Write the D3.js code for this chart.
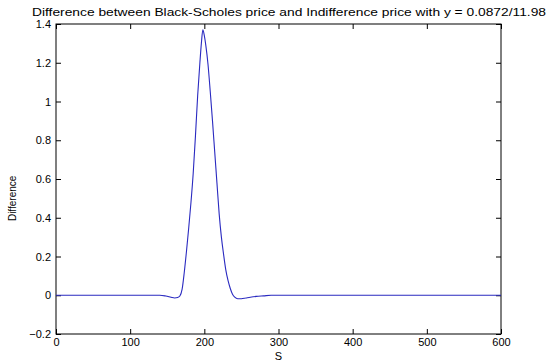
<!DOCTYPE html>
<html>
<head>
<meta charset="utf-8">
<script src="https://cdn.jsdelivr.net/npm/d3@7"></script>
<style>
  body { margin: 0; background: #fff; }
  svg { display: block; font-family: "Liberation Sans", Arial, sans-serif; }
</style>
</head>
<body>
<div id="chart"></div>
<script>
// values: S and difference
var sValues = [0, 100, 140, 148, 155, 160, 164, 167, 170, 173, 176, 179, 182, 185, 188, 191, 194, 196, 198,
    200, 202, 205, 208, 211, 214, 217, 220, 223, 226, 229, 232, 235, 238, 241, 245, 250, 256, 262, 270, 280, 290, 300, 400, 500, 600]
var diffValues = [0, 0, 0, -0.004, -0.01, -0.014, -0.012, -0.004, 0.03, 0.12, 0.23, 0.35, 0.48, 0.63, 0.82, 1.03, 1.2, 1.3, 1.37,
    1.34, 1.29, 1.19, 1.05, 0.9, 0.74, 0.58, 0.42, 0.3, 0.21, 0.13, 0.075, 0.035, 0.005, -0.01, -0.018, -0.018, -0.014, -0.01, -0.006, -0.003, 0, 0, 0, 0, 0]

var xTicks = [0, 100, 200, 300, 400, 500, 600]
var yTicks = [-0.2, 0, 0.2, 0.4, 0.6, 0.8, 1, 1.2, 1.4]

var titleText = "Difference between Black-Scholes price and Indifference price with y = 0.0872/11.98"
var xLabel = "S"
var yLabel = "Difference"

var data = sValues.map(function (s, i) { return { s: s, v: diffValues[i] } })

const W = 548, H = 362
const margin = ({ top: 24, right: 47, bottom: 28, left: 56 })
const width = W - margin.left - margin.right,
    height = H - margin.top - margin.bottom;

let svg = d3.select("#chart").append("svg")
    .attr("width", W)
    .attr("height", H)

let g = svg.append("g")
    .attr("transform", "translate(" + margin.left + "," + margin.top + ")");

let x = d3.scaleLinear().domain([0, 600]).range([0, width])
let y = d3.scaleLinear().domain([-0.2, 1.4]).range([height, 0])

// axes, ticks pointing inwards like matlab
function styleAxis(sel) {
    sel.select(".domain").remove()
    sel.selectAll(".tick line").attr("stroke", "#000")
    sel.selectAll(".tick text").attr("fill", "#000").attr("font-size", 11)
        .attr("font-family", "Liberation Sans, Arial, sans-serif")
}

g.append("g")
    .attr("transform", "translate(0," + height + ")")
    .call(d3.axisBottom(x).tickValues(xTicks).tickSize(-5).tickPadding(4).tickFormat(d3.format("d")))
    .call(styleAxis)

g.append("g")
    .call(d3.axisTop(x).tickValues(xTicks).tickSize(-5).tickFormat(""))
    .call(styleAxis)

g.append("g")
    .call(d3.axisLeft(y).tickValues(yTicks).tickSize(-5).tickPadding(5).tickFormat(function (d) { return d3.format("")(+d.toFixed(1)) }))
    .call(styleAxis)

g.append("g")
    .attr("transform", "translate(" + width + ",0)")
    .call(d3.axisRight(y).tickValues(yTicks).tickSize(-5).tickFormat(""))
    .call(styleAxis)

g.append("rect")
    .attr("width", width)
    .attr("height", height)
    .attr("fill", "none")
    .attr("stroke", "#000")
    .attr("stroke-width", 1)

let line = d3.line()
    .x(function (d) { return x(d.s) })
    .y(function (d) { return y(d.v) })
    .curve(d3.curveMonotoneX)

g.append("path")
    .datum(data)
    .attr("d", line)
    .attr("fill", "none")
    .attr("stroke", "#2a2ac0")
    .attr("stroke-width", 1.1)

svg.append("text")
    .attr("x", 289)
    .attr("y", 16)
    .attr("text-anchor", "middle")
    .attr("font-size", 11.5)
    .attr("textLength", 514)
    .attr("lengthAdjust", "spacingAndGlyphs")
    .text(titleText)

svg.append("text")
    .attr("x", margin.left + width / 2)
    .attr("y", 360)
    .attr("text-anchor", "middle")
    .attr("font-size", 11)
    .text(xLabel)

svg.append("text")
    .attr("transform", "translate(16," + (margin.top + y(0.5)) + ") rotate(-90)")
    .attr("text-anchor", "middle")
    .attr("font-size", 10)
    .text(yLabel)
</script>
</body>
</html>
